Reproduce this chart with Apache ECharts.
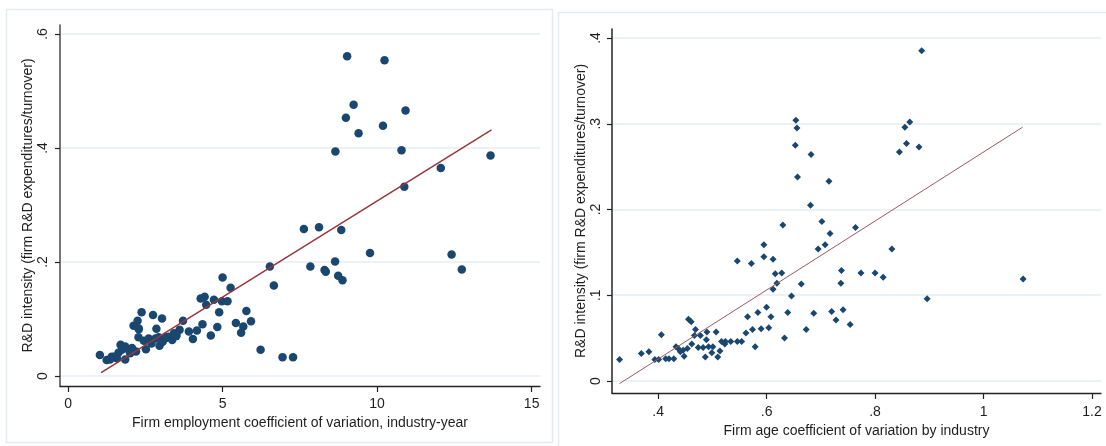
<!DOCTYPE html>
<html>
<head>
<meta charset="utf-8">
<script src="https://cdn.jsdelivr.net/npm/echarts@6/dist/echarts.min.js"></script>
<style>
html,body{margin:0;padding:0;background:#fff;}
#chart{width:1106px;height:446px;}
</style>
</head>
<body>
<div id="chart"></div>
<script>
// ---- Left panel data: firm employment CV vs R&D intensity ----
const leftX = [9.03,10.24,9.24,10.92,8.99,10.19,9.40,8.65,10.79,13.67,12.06,10.88,7.63,8.12,8.84,9.77,12.41,12.74,6.53,7.84,8.30,8.34,8.64,8.74,8.88,6.66,6.23,6.94,7.28,
  1.03,1.25,1.41,1.58,1.63,1.70,1.85,1.85,1.96,2.07,2.20,2.12,2.25,2.28,2.38,2.28,2.45,2.52,2.61,2.75,2.86,2.83,2.96,3.04,2.93,3.17,3.37,3.50,3.61,3.72,3.91,4.04,4.17,4.35,4.29,4.42,4.47,4.72,4.62,4.83,4.89,5.00,4.98,5.16,5.26,5.43,5.60,5.67,5.77,5.92,
  1.74,2.01,2.29,3.26,3.43,2.70,3.14,3.51,3.06,1.48,1.36];
const leftY = [0.561,0.554,0.476,0.466,0.453,0.439,0.426,0.394,0.396,0.387,0.365,0.332,0.258,0.261,0.256,0.216,0.213,0.187,0.192,0.192,0.186,0.183,0.201,0.176,0.168,0.159,0.046,0.033,0.033,
  0.037,0.028,0.034,0.031,0.041,0.055,0.052,0.029,0.046,0.049,0.043,0.088,0.097,0.084,0.112,0.068,0.062,0.047,0.066,0.107,0.083,0.066,0.053,0.101,0.068,0.068,0.063,0.070,0.081,0.097,0.078,0.065,0.080,0.091,0.136,0.139,0.125,0.134,0.071,0.086,0.112,0.173,0.131,0.131,0.155,0.093,0.076,0.087,0.114,0.096,
  0.046,0.040,0.082,0.069,0.075,0.057,0.066,0.072,0.060,0.034,0.029];
const leftFitX = [1.07, 13.70];
const leftFitY = [0.006, 0.432];
const leftXTicks = [0, 5, 10, 15];
const leftXTickLabels = ['0', '5', '10', '15'];
const leftYTicks = [0, 0.2, 0.4, 0.6];
const leftYTickLabels = ['0', '.2', '.4', '.6'];
const leftXTitle = 'Firm employment coefficient of variation, industry-year';
const yTitle = 'R&D intensity (firm R&D expenditures/turnover)';

// ---- Right panel data: firm age CV vs R&D intensity ----
const rightX = [0.886,0.654,0.656,0.653,0.682,0.657,0.715,0.681,0.702,0.630,0.764,0.717,0.708,0.695,0.831,0.595,0.595,0.612,0.546,0.572,0.616,0.628,0.619,0.612,0.738,0.774,0.800,0.815,0.737,0.664,1.073,0.896,0.646,0.600,0.608,0.639,0.687,0.720,0.741,0.728,0.754,0.673,0.633,0.584,0.565,0.574,0.590,0.604,0.579,0.562,0.554,0.546,0.534,0.524,0.517,0.523,0.507,0.514,0.510,0.501,0.490,0.489,0.493,0.499,0.487,0.483,0.474,0.478,0.469,0.467,0.456,0.461,0.462,0.454,0.446,0.441,0.448,0.437,0.433,0.429,0.420,0.414,0.406,0.401,0.394,0.383,0.369,0.329,0.845,0.855,0.864,0.858,0.881];
const rightY = [0.385,0.304,0.295,0.275,0.264,0.238,0.233,0.205,0.186,0.182,0.179,0.172,0.159,0.154,0.154,0.159,0.145,0.142,0.140,0.137,0.125,0.126,0.114,0.107,0.129,0.126,0.126,0.121,0.114,0.113,0.119,0.096,0.099,0.086,0.075,0.080,0.079,0.081,0.083,0.071,0.066,0.060,0.050,0.080,0.075,0.060,0.061,0.062,0.040,0.056,0.046,0.046,0.046,0.046,0.046,0.043,0.057,0.035,0.028,0.040,0.057,0.048,0.040,0.033,0.028,0.039,0.039,0.053,0.060,0.053,0.072,0.069,0.043,0.038,0.036,0.034,0.029,0.038,0.040,0.026,0.026,0.026,0.054,0.025,0.025,0.034,0.032,0.025,0.267,0.296,0.302,0.277,0.273];
const rightFitX = [0.329, 1.072];
const rightFitY = [-0.003, 0.296];
const rightXTicks = [0.4, 0.6, 0.8, 1.0, 1.2];
const rightXTickLabels = ['.4', '.6', '.8', '1', '1.2'];
const rightYTicks = [0, 0.1, 0.2, 0.3, 0.4];
const rightYTickLabels = ['0', '.1', '.2', '.3', '.4'];
const rightXTitle = 'Firm age coefficient of variation by industry';

function zip(a, b) { return a.map((v, i) => [v, b[i]]); }
function labeler(ticks, labels) {
  return function (v) {
    for (let i = 0; i < ticks.length; i++) if (Math.abs(ticks[i] - v) < 1e-6) return labels[i];
    return '';
  };
}

const FONT = '"Liberation Sans", Arial, sans-serif';
const TXT = '#1e1e1e';
const NAVY = '#1a476f';
const GRIDC = '#e6edf2';

function xAxisCfg(idx, min, max, ticks, labels, title, gap, margin) {
  return {
    type: 'value', gridIndex: idx, min: min, max: max,
    name: title, nameLocation: 'middle', nameGap: gap,
    nameTextStyle: { fontFamily: FONT, fontSize: 14, color: TXT },
    axisLine: { show: true, onZero: false, lineStyle: { color: '#222', width: 1.3 } },
    axisTick: { show: true, customValues: ticks, length: 6, lineStyle: { color: '#222', width: 1.2 } },
    axisLabel: { customValues: ticks, formatter: labeler(ticks, labels), margin: margin, fontFamily: FONT, fontSize: 14, color: TXT },
    splitLine: { show: false }
  };
}
function yAxisCfg(idx, min, max, ticks, labels, gap, margin, axisColor) {
  return {
    type: 'value', gridIndex: idx, min: min, max: max,
    name: yTitle, nameLocation: 'middle', nameGap: gap,
    nameTextStyle: { fontFamily: FONT, fontSize: 14, color: TXT },
    axisLine: { show: true, onZero: false, lineStyle: { color: axisColor, width: 1.6 } },
    axisTick: { show: true, customValues: ticks, length: 5, lineStyle: { color: '#222', width: 1.2 } },
    axisLabel: { customValues: ticks, formatter: labeler(ticks, labels), rotate: 90, margin: margin, fontFamily: FONT, fontSize: 14, color: TXT },
    splitLine: { show: true, lineStyle: { color: GRIDC, width: 1.5 } }
  };
}

const chart = echarts.init(document.getElementById('chart'), null, { renderer: 'canvas' });
chart.setOption({
  animation: false,
  backgroundColor: '#ffffff',
  graphic: [
    { type: 'rect', shape: { x: 6.5, y: 9.5, width: 546, height: 433 }, style: { fill: 'none', stroke: '#e3eaf0', lineWidth: 1.5 }, z: -10 },
    { type: 'polyline', shape: { points: [[558.5, 446], [558.5, 12.5], [1106, 12.5]] }, style: { fill: 'none', stroke: '#e3eaf0', lineWidth: 1.5 }, z: -10 }
  ],
  grid: [
    { left: 60, top: 25, width: 480, height: 361 },
    { left: 612, top: 29, width: 489, height: 364 }
  ],
  xAxis: [
    xAxisCfg(0, -0.26, 15.27, leftXTicks, leftXTickLabels, leftXTitle, 25, 11),
    xAxisCfg(1, 0.315, 1.2166, rightXTicks, rightXTickLabels, rightXTitle, 26, 12)
  ],
  yAxis: [
    yAxisCfg(0, -0.0175, 0.6158, leftYTicks, leftYTickLabels, 25, 10, '#555'),
    yAxisCfg(1, -0.014, 0.4105, rightYTicks, rightYTickLabels, 19, 9, '#333')
  ],
  series: [
    { type: 'scatter', xAxisIndex: 0, yAxisIndex: 0, data: zip(leftX, leftY), symbol: 'circle', symbolSize: 8.5, itemStyle: { color: NAVY, opacity: 1 } },
    { type: 'line', xAxisIndex: 0, yAxisIndex: 0, data: zip(leftFitX, leftFitY), symbol: 'none', lineStyle: { color: '#99363c', width: 1.5 }, z: 3 },
    { type: 'scatter', xAxisIndex: 1, yAxisIndex: 1, data: zip(rightX, rightY), symbol: 'diamond', symbolSize: 7, itemStyle: { color: NAVY, opacity: 1 } },
    { type: 'line', xAxisIndex: 1, yAxisIndex: 1, data: zip(rightFitX, rightFitY), symbol: 'none', lineStyle: { color: '#9a5a61', width: 1 }, z: 3 }
  ]
});
</script>
</body>
</html>
